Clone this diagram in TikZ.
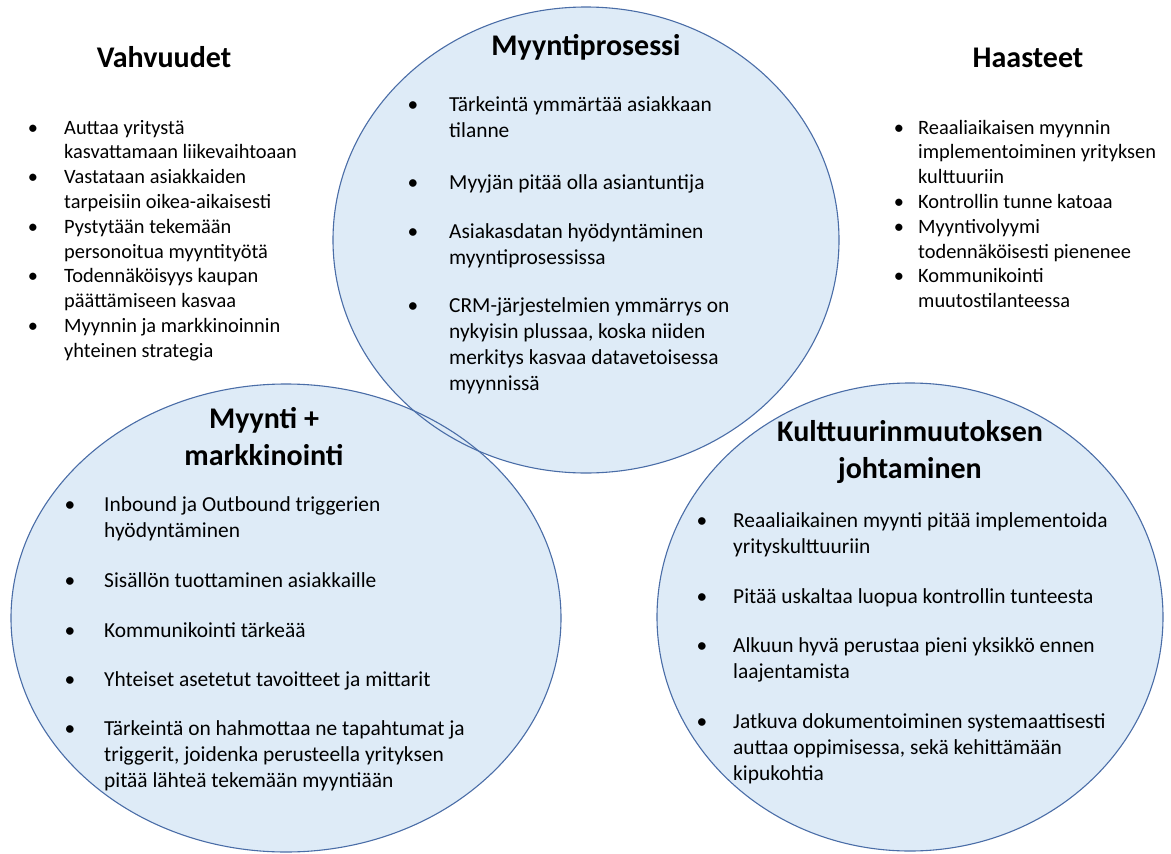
\documentclass[tikz,border=0pt]{standalone}
\usepackage{fontspec}
\setmainfont{Carlito}
\definecolor{circfill}{HTML}{DEEBF7}
\definecolor{circline}{HTML}{4A6DA7}

\begin{document}
\begin{tikzpicture}[x=1pt,y=-1pt,
  blob/.style={fill=circfill},
  rim/.style={draw=circline, line width=1.1pt},
  % multi-line nodes sit on the baseline of their last line
  heading/.style={font=\fontsize{30}{36.5}\selectfont\bfseries, inner sep=0pt, anchor=base, align=center},
  dot/.style={font=\fontsize{21.4}{26}\selectfont, inner sep=0pt, anchor=base},
  entry/.style={font=\fontsize{21.4}{26}\selectfont, inner sep=0pt, anchor=base west, align=left},
  sidedot/.style={font=\fontsize{20.4}{24.8}\selectfont, inner sep=0pt, anchor=base},
  sideentry/.style={font=\fontsize{20.4}{24.8}\selectfont, inner sep=0pt, anchor=base west, align=left}]

\useasboundingbox (0,0) rectangle (1171,854);

% three overlapping circles: fills first, outlines on top
\fill[blob] (586,240) ellipse [x radius=253, y radius=233];
\fill[blob] (286,618) ellipse [x radius=275, y radius=234];
\fill[blob] (910,617) ellipse [x radius=253, y radius=234];
\draw[rim] (586,240) ellipse [x radius=253, y radius=233];
\draw[rim] (286,618) ellipse [x radius=275, y radius=234];
\draw[rim] (910,617) ellipse [x radius=253, y radius=234];

% top circle
\node[heading] (proc) at (586,55) {Myyntiprosessi};
\node[dot] (pb1) at (413,111) {•};
\node[entry] (p1) at (449,137) {Tärkeintä ymmärtää asiakkaan\\tilanne};
\node[dot] (pb2) at (413,189) {•};
\node[entry] (p2) at (449,189) {Myyjän pitää olla asiantuntija};
\node[dot] (pb3) at (413,238) {•};
\node[entry] (p3) at (449,264) {Asiakasdatan hyödyntäminen\\myyntiprosessissa};
\node[dot] (pb4) at (413,312) {•};
\node[entry] (p4) at (449,390) {CRM-järjestelmien ymmärrys on\\nykyisin plussaa, koska niiden\\merkitys kasvaa datavetoisessa\\myynnissä};

% strengths
\node[heading] (vahv) at (164,67.5) {Vahvuudet};
\node[sidedot] (vb1) at (33,134) {•};
\node[sideentry] (v1) at (64,158.8) {Auttaa yritystä\\kasvattamaan liikevaihtoaan};
\node[sidedot] (vb2) at (33,183.6) {•};
\node[sideentry] (v2) at (64,208.4) {Vastataan asiakkaiden\\tarpeisiin oikea-aikaisesti};
\node[sidedot] (vb3) at (33,233.2) {•};
\node[sideentry] (v3) at (64,258) {Pystytään tekemään\\personoitua myyntityötä};
\node[sidedot] (vb4) at (33,282.8) {•};
\node[sideentry] (v4) at (64,307.6) {Todennäköisyys kaupan\\päättämiseen kasvaa};
\node[sidedot] (vb5) at (33,332.4) {•};
\node[sideentry] (v5) at (64,357.2) {Myynnin ja markkinoinnin\\yhteinen strategia};

% challenges
\node[heading] (haas) at (1028,67.5) {Haasteet};
\node[sidedot] (hb1) at (899,134) {•};
\node[sideentry] (h1) at (918,183.6) {Reaaliaikaisen myynnin\\implementoiminen yrityksen\\kulttuuriin};
\node[sidedot] (hb2) at (899,208.4) {•};
\node[sideentry] (h2) at (918,208.4) {Kontrollin tunne katoaa};
\node[sidedot] (hb3) at (899,233.2) {•};
\node[sideentry] (h3) at (918,258) {Myyntivolyymi\\todennäköisesti pienenee};
\node[sidedot] (hb4) at (899,282.8) {•};
\node[sideentry] (h4) at (918,307.6) {Kommunikointi\\muutostilanteessa};

% bottom-left circle
\node[heading] (mark) at (264,465) {Myynti +\\markkinointi};
\node[dot] (mb1) at (70,511) {•};
\node[entry] (m1) at (104,537) {Inbound ja Outbound triggerien\\hyödyntäminen};
\node[dot] (mb2) at (70,587) {•};
\node[entry] (m2) at (104,587) {Sisällön tuottaminen asiakkaille};
\node[dot] (mb3) at (70,637) {•};
\node[entry] (m3) at (104,637) {Kommunikointi tärkeää};
\node[dot] (mb4) at (70,686) {•};
\node[entry] (m4) at (104,686) {Yhteiset asetetut tavoitteet ja mittarit};
\node[dot] (mb5) at (70,735) {•};
\node[entry] (m5) at (104,787) {Tärkeintä on hahmottaa ne tapahtumat ja\\triggerit, joidenka perusteella yrityksen\\pitää lähteä tekemään myyntiään};

% bottom-right circle
\node[heading] (kult) at (910,478) {Kulttuurinmuutoksen\\johtaminen};
\node[dot] (kb1) at (702,527) {•};
\node[entry] (k1) at (733,553) {Reaaliaikainen myynti pitää implementoida\\yrityskulttuuriin};
\node[dot] (kb2) at (702,603) {•};
\node[entry] (k2) at (733,603) {Pitää uskaltaa luopua kontrollin tunteesta};
\node[dot] (kb3) at (702,652) {•};
\node[entry] (k3) at (733,678) {Alkuun hyvä perustaa pieni yksikkö ennen\\laajentamista};
\node[dot] (kb4) at (702,728) {•};
\node[entry] (k4) at (733,780) {Jatkuva dokumentoiminen systemaattisesti\\auttaa oppimisessa, sekä kehittämään\\kipukohtia};
\end{tikzpicture}
\end{document}
